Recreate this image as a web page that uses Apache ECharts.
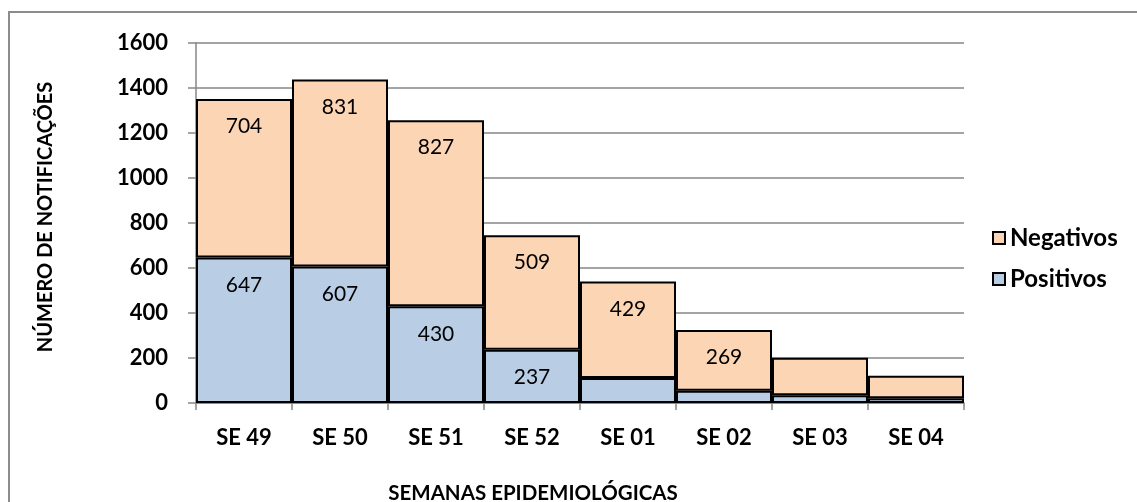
<!DOCTYPE html>
<html>
<head>
<meta charset="utf-8">
<script src="https://cdn.jsdelivr.net/npm/echarts@6/dist/echarts.min.js"></script>
<style>
html,body{margin:0;padding:0;background:#fff;}
#c{width:1137px;height:502px;}
</style>
</head>
<body>
<div id="c"></div>
<script>
const categories = ['SE 49','SE 50','SE 51','SE 52','SE 01','SE 02','SE 03','SE 04'];
const positivos = [647, 607, 430, 237, 111, 55, 34, 21];
const negativos = [704, 831, 827, 509, 429, 269, 167, 100];
const yTicks = [0, 200, 400, 600, 800, 1000, 1200, 1400, 1600];

const FONT = 'Lato, "Open Sans", sans-serif';
const chart = echarts.init(document.getElementById('c'));

const labelCfg = {
  show: true,
  position: 'insideTop',
  distance: 17,
  color: '#000',
  fontFamily: FONT,
  fontSize: 21,
  formatter: p => (p.value >= 200 ? String(p.value) : '')
};

chart.setOption({
  animation: false,
  backgroundColor: '#fff',
  grid: { left: 196, right: 173, top: 43, bottom: 99 },
  legend: {
    orient: 'vertical',
    left: 992,
    top: 226,
    padding: 0,
    itemGap: 17,
    itemWidth: 12,
    itemHeight: 12,
    icon: 'rect',
    data: ['Negativos', 'Positivos'],
    textStyle: { fontFamily: FONT, fontSize: 24, fontWeight: 'bold', color: '#000' }
  },
  xAxis: {
    type: 'category',
    data: categories,
    axisLine: { lineStyle: { color: '#868686', width: 1.5 } },
    axisTick: { show: true, alignWithLabel: false, length: 7, lineStyle: { color: '#868686', width: 1.5 } },
    axisLabel: { margin: 24, fontFamily: FONT, fontSize: 22, fontWeight: 'bold', color: '#000' }
  },
  yAxis: {
    type: 'value',
    min: yTicks[0],
    max: yTicks[yTicks.length - 1],
    interval: 200,
    axisLine: { show: true, lineStyle: { color: '#868686', width: 1.5 } },
    axisTick: { show: true, length: 8, lineStyle: { color: '#868686', width: 1.5 } },
    splitLine: { lineStyle: { color: '#868686', width: 1.5 } },
    axisLabel: { margin: 28, fontFamily: FONT, fontSize: 22, fontWeight: 'bold', color: '#000', formatter: v => String(v) }
  },
  series: [
    {
      name: 'Positivos', type: 'bar', stack: 't', data: positivos,
      barCategoryGap: 0,
      itemStyle: { color: '#B9CDE5', borderColor: '#000', borderWidth: 2 },
      label: labelCfg
    },
    {
      name: 'Negativos', type: 'bar', stack: 't', data: negativos,
      barCategoryGap: 0,
      itemStyle: { color: '#FCD5B5', borderColor: '#000', borderWidth: 2 },
      label: labelCfg
    }
  ],
  graphic: [
    { type: 'rect', shape: { x: 9, y: 12, width: 1200, height: 600 }, style: { fill: null, stroke: '#8c8c8c', lineWidth: 2 }, silent: true },
    { type: 'text', x: 46, y: 217, rotation: Math.PI / 2,
      style: { text: 'NÚMERO DE NOTIFICAÇÕES', fontFamily: FONT, fontSize: 20, fontWeight: 'bold', fill: '#000', align: 'center', verticalAlign: 'middle' } },
    { type: 'text', x: 533, y: 493,
      style: { text: 'SEMANAS EPIDEMIOLÓGICAS', fontFamily: FONT, fontSize: 20.5, fontWeight: 'bold', fill: '#000', align: 'center', verticalAlign: 'middle' } }
  ]
});
</script>
</body>
</html>
